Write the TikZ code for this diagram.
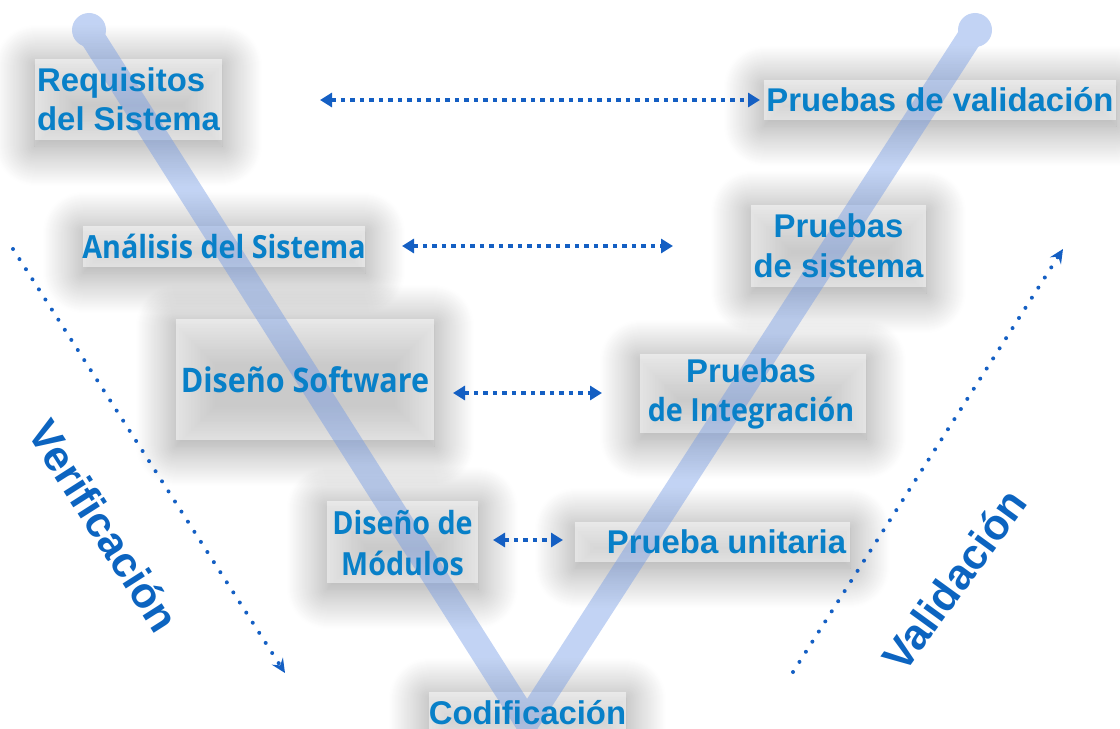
\documentclass[tikz,border=0pt]{standalone}
\usepackage{fontspec}
\setmainfont{Liberation Sans}
\newfontfamily\seg[FakeStretch=0.9]{Open Sans}
\usetikzlibrary{arrows.meta,shadows.blur}
\definecolor{txt}{RGB}{8,128,200}
\definecolor{arr}{RGB}{20,95,195}
\definecolor{vv}{RGB}{12,100,192}
\definecolor{band}{RGB}{110,150,228}
\tikzset{
  boxfill/.style={fill=white, fill opacity=0.5,
    blur shadow={shadow xshift=0bp, shadow yshift=-6bp, shadow blur radius=40bp,
      shadow blur steps=40, shadow opacity=42}},
  lbl/.style={inner sep=0pt, text=txt, align=center,
    font=\fontsize{33}{39}\selectfont\bfseries},
  segf/.style={font=\seg\fontsize{32}{40}\selectfont\bfseries},
  link/.style={arr, line width=4bp, dash pattern=on 4.5bp off 5bp,
    {Triangle[length=12bp,width=14bp]}-{Triangle[length=12bp,width=14bp]}},
  flow/.style={arr, line width=4bp, dash pattern=on 0bp off 12bp, line cap=round,
    -{Stealth[length=14bp,width=13bp,inset=5bp]}},
  side/.style={text=vv, font=\fontsize{43}{43}\selectfont\bfseries, inner sep=0pt}
}
\begin{document}
\begin{tikzpicture}[x=1bp,y=-1bp]
\useasboundingbox (0,0) rectangle (1120,729);
% box backgrounds
\path[boxfill] (35,59) rectangle (222,140);
\path[boxfill] (83,226) rectangle (365,267);
\path[boxfill] (176,319) rectangle (434,440);
\path[boxfill] (327,501) rectangle (478,583);
\path[boxfill] (429,692) rectangle (626,740);
\path[boxfill] (575,522) rectangle (850,562);
\path[boxfill] (640,354) rectangle (866,433);
\path[boxfill] (751,205) rectangle (926,287);
\path[boxfill] (764,80) rectangle (1116,120);
% V band
\begin{scope}[transparency group, opacity=0.42]
\draw[band, line width=25bp, line cap=round] (89,32) -- (527,722) -- (973,32);
\fill[band] (89,30) circle (17bp);
\fill[band] (975,30) circle (17bp);
\end{scope}
% labels
\node[lbl, align=left] (req) at (128.5,99.5) {Requisitos\\del Sistema};
\node[lbl, segf] (ana) at (224,246.5) {Análisis del Sistema};
\node[lbl, font=\seg\fontsize{34}{40}\selectfont\bfseries] (dsw) at (305,380) {Diseño Software};
\node[lbl, segf, font=\seg\fontsize{32}{41}\selectfont\bfseries] (dmo) at (402.5,543) {Diseño de\\Módulos};
\node[lbl] (cod) at (527.5,713) {Codificación};
\node[lbl] (pun) at (726.5,542) {Prueba unitaria};
\node[lbl] (pin) at (751,393.5) {Pruebas\\{\seg\fontsize{32}{39}\selectfont\bfseries de Integración}};
\node[lbl, font=\fontsize{33}{40}\selectfont\bfseries] (psi) at (838.5,246) {Pruebas\\de sistema};
\node[lbl] (pva) at (940,100) {Pruebas de validación};
% horizontal links
\coordinate (a1) at (320,100); \coordinate (b1) at (760,100);
\coordinate (a2) at (402,246); \coordinate (b2) at (673,246);
\coordinate (a3) at (453,393); \coordinate (b3) at (602,393);
\coordinate (a4) at (493,540); \coordinate (b4) at (563,540);
\draw[link] (a1) -- (b1);
\draw[link] (a2) -- (b2);
\draw[link] (a3) -- (b3);
\draw[link] (a4) -- (b4);
% side arrows
\coordinate (vs) at (13,249); \coordinate (ve) at (285,673);
\coordinate (ws) at (793,672); \coordinate (we) at (1063,249);
\draw[flow] (vs) -- (ve);
\draw[flow] (ws) -- (we);
\node[side, rotate=-57.5] (ver) at (104,526) {Verificación};
\node[side, rotate=54] (val) at (954,580) {Validación};
\end{tikzpicture}
\end{document}
